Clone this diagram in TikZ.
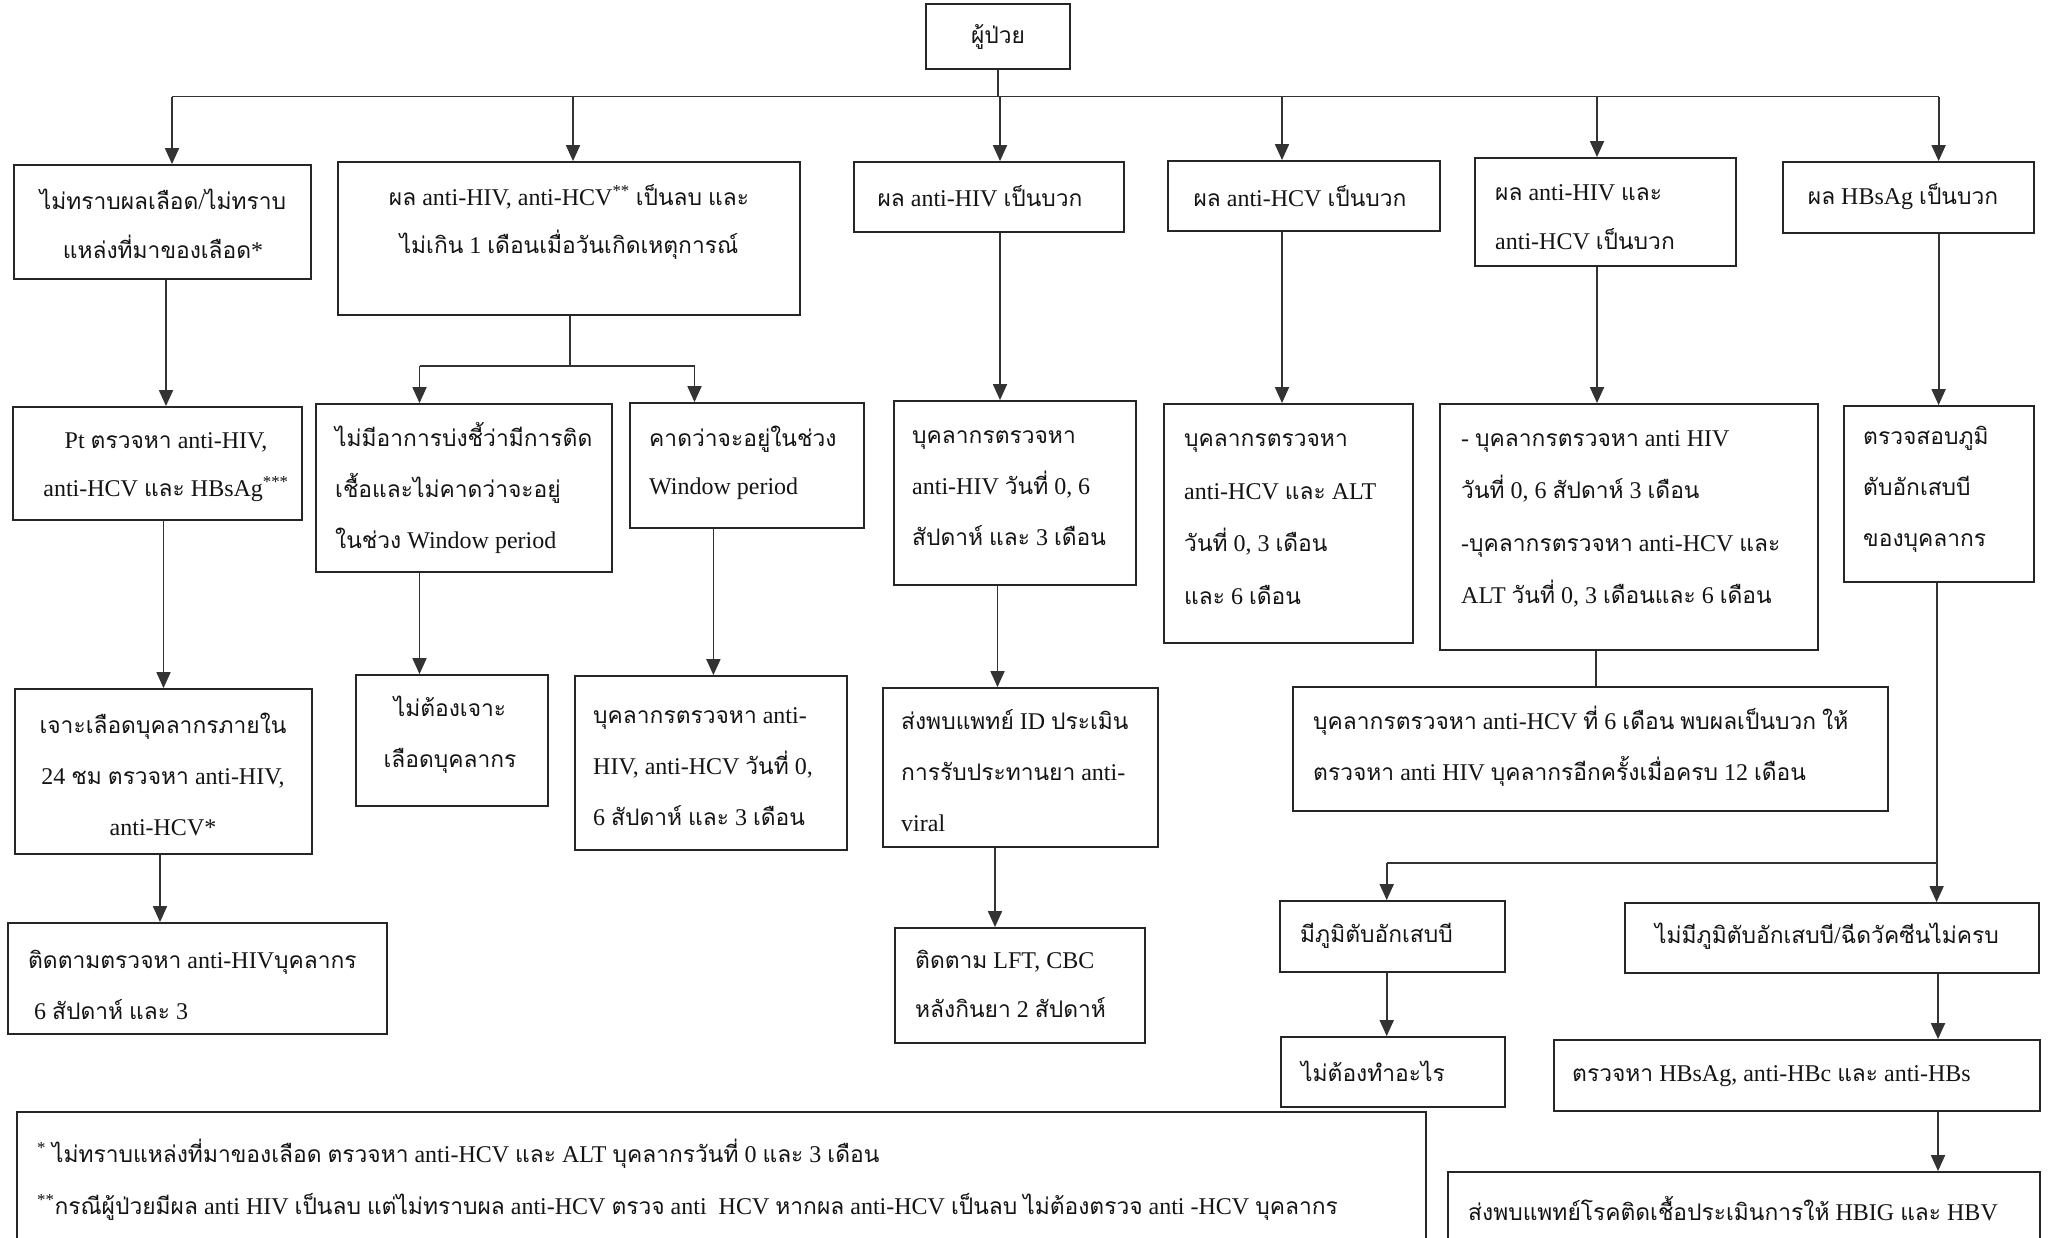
\documentclass[tikz,border=0pt]{standalone}
\usepackage{fontspec}
\usetikzlibrary{arrows.meta}
\setmainfont{Liberation Serif}
\newfontfamily\latinfont{Liberation Serif}
\newfontfamily\thaifont[Script=Thai,Scale=0.95]{Loma}
\XeTeXinterchartokenstate=1
\newXeTeXintercharclass\ThaiCls
\newcount\thaicnt
\thaicnt="0E00
\loop
  \XeTeXcharclass\thaicnt=\ThaiCls
  \advance\thaicnt by 1
\ifnum\thaicnt<"0E80 \repeat
\XeTeXinterchartoks 0 \ThaiCls = {\thaifont}
\XeTeXinterchartoks 4095 \ThaiCls = {\thaifont}
\XeTeXinterchartoks \ThaiCls 0 = {\latinfont}
\XeTeXinterchartoks \ThaiCls 4095 = {\latinfont}
\newcommand\fsz{\fontsize{24}{51}\selectfont}
\newcommand\fszb{\fontsize{24}{48.5}\selectfont}
\newcommand\fszc{\fontsize{24}{52.5}\selectfont}
\newcommand\bx[5]{%
  \pgfmathsetmacro\bxcx{(#2+#4)/2}%
  \pgfmathsetmacro\bxcy{(#3+#5)/2}%
  \pgfmathsetmacro\bxw{#4-#2}%
  \pgfmathsetmacro\bxh{#5-#3}%
  \node[box,minimum width=\bxw pt,minimum height=\bxh pt] (#1) at (\bxcx,\bxcy) {};}
\tikzset{
  box/.style={draw=black!85, line width=1.8pt, inner sep=0pt, fill=none},
  txt/.style={inner sep=0pt, font=\fsz, text=black!92},
  two/.style={font=\fszb},
  four/.style={font=\fszc},
  ln/.style={draw=black!80, line width=1.8pt},
  arr/.style={draw=black!80, line width=1.8pt, -{Triangle[width=14pt,length=16pt]}},
}
\begin{document}
\begin{tikzpicture}[x=1pt,y=-1pt]
\path[use as bounding box, clip] (0,0) rectangle (2049,1237);
\fill[white] (0,0) rectangle (2049,1237);
% boxes
\bx{top}{926}{4}{1070}{69}
\bx{b1}{14}{165}{311}{279}
\bx{b2}{338}{162}{800}{315}
\bx{b3}{854}{162}{1124}{232}
\bx{b4}{1168}{161}{1440}{231}
\bx{b5}{1475}{158}{1736}{266}
\bx{b6}{1783}{162}{2034}{233}
\bx{p1}{13}{407}{302}{520}
\bx{n1}{316}{404}{612}{572}
\bx{k1}{630}{403}{864}{528}
\bx{h1}{894}{401}{1136}{585}
\bx{a1}{1164}{404}{1413}{643}
\bx{c5}{1440}{404}{1818}{650}
\bx{s6}{1844}{406}{2034}{582}
\bx{q1}{15}{689}{312}{854}
\bx{q2}{356}{675}{548}{806}
\bx{q3}{575}{676}{847}{850}
\bx{h2}{883}{688}{1158}{847}
\bx{m12}{1293}{687}{1888}{811}
\bx{r1}{8}{923}{387}{1034}
\bx{h3}{895}{928}{1145}{1043}
\bx{y1}{1280}{901}{1505}{972}
\bx{y2}{1625}{903}{2039}{973}
\bx{y3}{1281}{1037}{1505}{1107}
\bx{y4}{1554}{1040}{2040}{1111}
\bx{y5}{1448}{1172}{2040}{1262}
\bx{fn}{17}{1112}{1426}{1262}
% texts
\node[txt] (t0) at (998,37) {ผู้ป่วย};
\node[txt,two,align=center] (t1) at (163,224) {ไม่ทราบผลเลือด/ไม่ทราบ\\แหล่งที่มาของเลือด*};
\node[txt,two,align=center] (t2) at (569,222) {ผล anti-HIV, anti-HCV\textsuperscript{**} เป็นลบ และ\\ไม่เกิน 1 เดือนเมื่อวันเกิดเหตุการณ์};
\node[txt] (t3) at (980,196) {ผล anti-HIV เป็นบวก};
\node[txt] (t4) at (1300,196) {ผล anti-HCV เป็นบวก};
\node[txt,two,align=left,anchor=west] (t5) at (1495,217) {ผล anti-HIV และ\\anti-HCV เป็นบวก};
\node[txt] (t6) at (1903,197) {ผล HBsAg เป็นบวก};
\node[txt,two,align=center] (tp1) at (166,467) {Pt ตรวจหา anti-HIV,\\anti-HCV และ HBsAg\textsuperscript{***}};
\node[txt,align=left,anchor=west] (tn1) at (335,488) {ไม่มีอาการบ่งชี้ว่ามีการติด\\เชื้อและไม่คาดว่าจะอยู่\\ในช่วง Window period};
\node[txt,two,align=left,anchor=west] (tk1) at (649,463) {คาดว่าจะอยู่ในช่วง\\Window period};
\node[txt,align=left,anchor=west] (th1) at (912,488) {บุคลากรตรวจหา\\anti-HIV วันที่ 0, 6\\สัปดาห์ และ 3 เดือน};
\node[txt,four,align=left,anchor=west] (ta1) at (1184,519) {บุคลากรตรวจหา\\anti-HCV และ ALT\\วันที่ 0, 3 เดือน\\และ 6 เดือน};
\node[txt,four,align=left,anchor=west] (tc5) at (1461,519) {- บุคลากรตรวจหา anti HIV\\วันที่ 0, 6 สัปดาห์ 3 เดือน\\-บุคลากรตรวจหา anti-HCV และ\\ALT วันที่ 0, 3 เดือนและ 6 เดือน};
\node[txt,align=left,anchor=west] (ts6) at (1863,489) {ตรวจสอบภูมิ\\ตับอักเสบบี\\ของบุคลากร};
\node[txt,align=center] (tq1) at (163,774) {เจาะเลือดบุคลากรภายใน\\24 ชม ตรวจหา anti-HIV,\\anti-HCV*};
\node[txt,align=center] (tq2) at (450,735) {ไม่ต้องเจาะ\\เลือดบุคลากร};
\node[txt,align=left,anchor=west] (tq3) at (593,767) {บุคลากรตรวจหา anti-\\HIV, anti-HCV วันที่ 0,\\6 สัปดาห์ และ 3 เดือน};
\node[txt,align=left,anchor=west] (th2) at (901,771) {ส่งพบแพทย์ ID ประเมิน\\การรับประทานยา anti-\\viral};
\node[txt,align=left,anchor=west] (tm12) at (1313,746) {บุคลากรตรวจหา anti-HCV ที่ 6 เดือน พบผลเป็นบวก ให้\\ตรวจหา anti HIV บุคลากรอีกครั้งเมื่อครบ 12 เดือน};
\node[txt,align=left,anchor=west] (tr1) at (28,985) {ติดตามตรวจหา anti-HIVบุคลากร\\\hspace*{6pt}6 สัปดาห์ และ 3};
\node[txt,two,align=left,anchor=west] (th3) at (915,984) {ติดตาม LFT, CBC\\หลังกินยา 2 สัปดาห์};
\node[txt,anchor=west] (ty1) at (1300,936) {มีภูมิตับอักเสบบี};
\node[txt] (ty2) at (1827,936) {ไม่มีภูมิตับอักเสบบี/ฉีดวัคซีนไม่ครบ};
\node[txt,anchor=west] (ty3) at (1301,1071) {ไม่ต้องทำอะไร};
\node[txt,anchor=west] (ty4) at (1572,1076) {ตรวจหา HBsAg, anti-HBc และ anti-HBs};
\node[txt,anchor=west] (ty5) at (1468,1209) {ส่งพบแพทย์โรคติดเชื้อประเมินการให้ HBIG และ HBV};
\node[txt,anchor=west] (tf1) at (37,1154) {\textsuperscript{*} ไม่ทราบแหล่งที่มาของเลือด ตรวจหา anti-HCV และ ALT บุคลากรวันที่ 0 และ 3 เดือน};
\node[txt,anchor=west] (tf2) at (37,1207) {\textsuperscript{**}กรณีผู้ป่วยมีผล anti HIV เป็นลบ แต่ไม่ทราบผล anti-HCV ตรวจ anti\ \ HCV หากผล anti-HCV เป็นลบ ไม่ต้องตรวจ anti -HCV บุคลากร};
% column x references
\coordinate (J1) at (172,96.5);
\coordinate (J2) at (573,96.5);
\coordinate (J3) at (1000,96.5);
\coordinate (J4) at (1282,96.5);
\coordinate (J5) at (1597,96.5);
\coordinate (J6) at (1938.6,96.5);
\coordinate (X1a) at (166,0);
\coordinate (X1b) at (163.5,0);
\coordinate (X1c) at (160,0);
\coordinate (X2) at (570,0);
\coordinate (X2a) at (419.5,0);
\coordinate (X2b) at (694.5,0);
\coordinate (X2d) at (713.4,0);
\coordinate (X3a) at (1000,0);
\coordinate (X3b) at (997.5,0);
\coordinate (X3c) at (995,0);
\coordinate (X4) at (1282,0);
\coordinate (X5) at (1597,0);
\coordinate (X5b) at (1596,0);
\coordinate (X6) at (1938.6,0);
\coordinate (X6b) at (1936.6,0);
\coordinate (X6c) at (1938,0);
\coordinate (X7) at (1386.7,0);
\coordinate (B2) at (570,366);
\coordinate (B6) at (1936.6,862.7);
% connectors
\draw[ln] (top.south) -- (top.south |- J1);
\draw[ln] (J1) -- (J6);
\draw[arr] (J1) -- (J1 |- b1.north);
\draw[arr] (J2) -- (J2 |- b2.north);
\draw[arr] (J3) -- (J3 |- b3.north);
\draw[arr] (J4) -- (J4 |- b4.north);
\draw[arr] (J5) -- (J5 |- b5.north);
\draw[arr] (J6) -- (J6 |- b6.north);
\draw[arr] (b1.south -| X1a) -- (p1.north -| X1a);
\draw[arr] (p1.south -| X1b) -- (q1.north -| X1b);
\draw[arr] (q1.south -| X1c) -- (r1.north -| X1c);
\draw[ln] (b2.south -| X2) -- (B2);
\draw[ln] (B2 -| X2a) -- (B2 -| X2b);
\draw[arr] (B2 -| X2a) -- (n1.north -| X2a);
\draw[arr] (B2 -| X2b) -- (k1.north -| X2b);
\draw[arr] (n1.south -| X2a) -- (q2.north -| X2a);
\draw[arr] (k1.south -| X2d) -- (q3.north -| X2d);
\draw[arr] (b3.south -| X3a) -- (h1.north -| X3a);
\draw[arr] (h1.south -| X3b) -- (h2.north -| X3b);
\draw[arr] (h2.south -| X3c) -- (h3.north -| X3c);
\draw[arr] (b4.south -| X4) -- (a1.north -| X4);
\draw[arr] (b5.south -| X5) -- (c5.north -| X5);
\draw[ln] (c5.south -| X5b) -- (m12.north -| X5b);
\draw[arr] (b6.south -| X6) -- (s6.north -| X6);
\draw[ln] (s6.south -| X6b) -- (B6);
\draw[ln] (B6) -- (B6 -| X7);
\draw[arr] (B6 -| X7) -- (y1.north -| X7);
\draw[arr] (B6) -- (y2.north -| X6b);
\draw[arr] (y1.south -| X7) -- (y3.north -| X7);
\draw[arr] (y2.south -| X6c) -- (y4.north -| X6c);
\draw[arr] (y4.south -| X6c) -- (y5.north -| X6c);
\end{tikzpicture}
\end{document}
